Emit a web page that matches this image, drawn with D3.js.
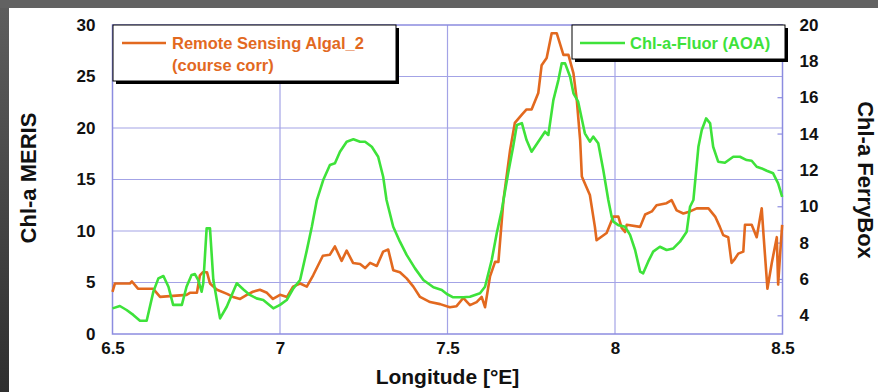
<!DOCTYPE html>
<html>
<head>
<meta charset="utf-8">
<script src="https://cdn.jsdelivr.net/npm/d3@7"></script>
<style>
  body { margin: 0; background: #fff; }
  svg { display: block; font-family: "Liberation Sans", Arial, sans-serif; }
  .tick text { font-weight: bold; font-size: 17px; fill: #111; }
</style>
</head>
<body>
<div id="chart-area"></div>
<script>
// longitude ticks
const xTicks = [6.5, 7, 7.5, 8, 8.5];
const leftTicks = [0, 5, 10, 15, 20, 25, 30];
const rightTicks = [4, 6, 8, 10, 12, 14, 16, 18, 20];

// Remote Sensing Algal_2 (left axis, Chl-a MERIS)
const meris = [
  [6.500, 4.1], [6.507, 4.9], [6.552, 4.9], [6.558, 5.1], [6.576, 4.4], [6.621, 4.4],
  [6.642, 3.6], [6.681, 3.7], [6.721, 3.8], [6.731, 4.0], [6.752, 4.0], [6.761, 5.7],
  [6.770, 6.0], [6.782, 6.0], [6.791, 4.9], [6.812, 4.3], [6.842, 3.9], [6.860, 3.6],
  [6.881, 3.4], [6.901, 3.8], [6.919, 4.1], [6.940, 4.3], [6.961, 4.0], [6.979, 3.4],
  [7.000, 3.8], [7.021, 3.6], [7.039, 4.6], [7.060, 4.9], [7.080, 4.6], [7.099, 5.7],
  [7.128, 7.6], [7.149, 7.7], [7.164, 8.5], [7.184, 7.1], [7.199, 8.1], [7.218, 6.9],
  [7.239, 6.8], [7.254, 6.4], [7.269, 6.9], [7.289, 6.6], [7.308, 8.0], [7.323, 8.2],
  [7.338, 6.2], [7.358, 6.0], [7.378, 5.4], [7.398, 4.6], [7.418, 3.6], [7.448, 3.1],
  [7.478, 2.9], [7.507, 2.6], [7.527, 2.7], [7.547, 3.5], [7.567, 2.8], [7.587, 3.1],
  [7.602, 3.6], [7.612, 2.6], [7.627, 5.6], [7.642, 7.0], [7.652, 7.0], [7.667, 13.0],
  [7.687, 17.9], [7.701, 20.5], [7.722, 21.3], [7.736, 21.8], [7.751, 21.8], [7.771, 23.4],
  [7.781, 26.1], [7.796, 26.8], [7.811, 29.2], [7.826, 29.2], [7.846, 27.1], [7.861, 27.1],
  [7.876, 25.3], [7.886, 22.7], [7.896, 18.8], [7.901, 15.3], [7.925, 13.5], [7.940, 10.4],
  [7.945, 9.1], [7.975, 9.8], [7.995, 11.4], [8.010, 11.4], [8.020, 10.3], [8.030, 9.9],
  [8.035, 10.6], [8.075, 10.4], [8.090, 11.6], [8.110, 11.9], [8.124, 12.5], [8.154, 12.7],
  [8.169, 13.0], [8.184, 12.0], [8.204, 11.7], [8.224, 11.9], [8.244, 12.2], [8.279, 12.2],
  [8.299, 11.4], [8.313, 10.4], [8.323, 9.6], [8.338, 9.4], [8.348, 6.9], [8.358, 7.3],
  [8.368, 7.8], [8.383, 8.0], [8.388, 10.6], [8.408, 10.6], [8.423, 9.4], [8.438, 12.2],
  [8.443, 9.8], [8.455, 4.4], [8.468, 6.9], [8.483, 9.4], [8.487, 4.8], [8.493, 7.8],
  [8.499, 10.6]
];

// Chl-a-Fluor (AOA) (right axis, Chl-a FerryBox)
const fluor = [
  [6.500, 4.41], [6.522, 4.54], [6.542, 4.32], [6.562, 4.05], [6.582, 3.73], [6.602, 3.73],
  [6.622, 5.33], [6.637, 6.06], [6.652, 6.19], [6.667, 5.60], [6.681, 4.60], [6.707, 4.60],
  [6.721, 5.60], [6.736, 6.25], [6.746, 6.30], [6.756, 5.97], [6.766, 5.33], [6.771, 5.79],
  [6.781, 8.81], [6.791, 8.81], [6.801, 5.97], [6.821, 3.86], [6.841, 4.50], [6.871, 5.79],
  [6.890, 5.46], [6.910, 5.15], [6.930, 4.96], [6.950, 4.87], [6.980, 4.41], [7.000, 4.60],
  [7.020, 4.87], [7.040, 5.51], [7.060, 5.97], [7.080, 7.60], [7.095, 8.90], [7.110, 10.37],
  [7.129, 11.47], [7.149, 12.30], [7.164, 12.39], [7.179, 13.03], [7.199, 13.58], [7.219, 13.71],
  [7.239, 13.58], [7.254, 13.58], [7.274, 13.30], [7.293, 12.75], [7.308, 11.65], [7.318, 10.37],
  [7.323, 10.00], [7.338, 8.90], [7.358, 8.08], [7.378, 7.35], [7.403, 6.61], [7.428, 5.97],
  [7.458, 5.57], [7.483, 5.42], [7.498, 5.20], [7.517, 5.02], [7.547, 5.02], [7.567, 5.05],
  [7.597, 5.24], [7.612, 5.60], [7.632, 7.07], [7.647, 8.54], [7.662, 9.82], [7.681, 11.84],
  [7.696, 13.30], [7.707, 14.50], [7.722, 14.60], [7.736, 13.67], [7.751, 13.03], [7.771, 13.58],
  [7.791, 14.13], [7.801, 13.95], [7.816, 15.87], [7.831, 16.97], [7.841, 17.89], [7.851, 17.89],
  [7.866, 17.15], [7.876, 16.24], [7.890, 15.78], [7.910, 14.04], [7.925, 13.58], [7.935, 13.86],
  [7.950, 13.49], [7.965, 12.02], [7.980, 10.37], [7.990, 9.45], [7.995, 9.18], [8.010, 8.99],
  [8.030, 8.90], [8.045, 8.45], [8.060, 7.62], [8.075, 6.43], [8.084, 6.34], [8.099, 6.98],
  [8.114, 7.53], [8.134, 7.80], [8.154, 7.62], [8.174, 7.71], [8.194, 8.08], [8.214, 8.63],
  [8.224, 10.00], [8.234, 10.37], [8.249, 13.30], [8.259, 14.22], [8.272, 14.86], [8.284, 14.59],
  [8.293, 13.30], [8.308, 12.48], [8.328, 12.42], [8.353, 12.75], [8.373, 12.75], [8.393, 12.57],
  [8.408, 12.53], [8.423, 12.20], [8.438, 12.11], [8.453, 11.98], [8.472, 11.84], [8.487, 11.29],
  [8.499, 10.55]
];

const W = 878, H = 392;
const orange = "#e2691f", green = "#3ee23a", grid = "#a3a3e6";

const svg = d3.select("#chart-area").append("svg")
  .attr("width", W).attr("height", H);

// dark slide frame
const grad = svg.append("defs").append("linearGradient")
  .attr("id", "side").attr("x1", 0).attr("y1", 0).attr("x2", 0).attr("y2", 1);
grad.append("stop").attr("offset", "0%").attr("stop-color", "#5e5e5e");
grad.append("stop").attr("offset", "100%").attr("stop-color", "#2f2f2f");
svg.append("rect").attr("width", W).attr("height", H).attr("fill", "url(#side)");
svg.append("rect").attr("width", W).attr("height", 8).attr("fill", "#626262");
svg.append("rect").attr("x", 9).attr("y", 8).attr("width", W - 9).attr("height", H - 8)
  .attr("fill", "#fff");

// scales
const x = d3.scaleLinear().domain([6.5, 8.5]).range([112.5, 782.5]);
const yL = d3.scaleLinear().domain([0, 30]).range([334, 25]);
const yR = d3.scaleLinear().domain([3, 20]).range([334, 25]);

// grid
const g = svg.append("g");
g.selectAll(".hgrid").data([5, 10, 15, 20, 25]).enter().append("line")
  .attr("x1", x(6.5)).attr("x2", x(8.5))
  .attr("y1", d => yL(d)).attr("y2", d => yL(d))
  .attr("stroke", grid).attr("stroke-width", 1.2);
g.selectAll(".vgrid").data([7, 7.5, 8]).enter().append("line")
  .attr("y1", yL(0)).attr("y2", yL(30))
  .attr("x1", d => x(d)).attr("x2", d => x(d))
  .attr("stroke", grid).attr("stroke-width", 1.2);
g.append("rect")
  .attr("x", x(6.5)).attr("y", yL(30))
  .attr("width", x(8.5) - x(6.5)).attr("height", yL(0) - yL(30))
  .attr("fill", "none").attr("stroke", "#8c8ce0").attr("stroke-width", 1.5);

// right axis small ticks
g.selectAll(".rtick").data(rightTicks).enter().append("line")
  .attr("x1", x(8.5) - 5).attr("x2", x(8.5))
  .attr("y1", d => yR(d)).attr("y2", d => yR(d))
  .attr("stroke", "#8c8ce0").attr("stroke-width", 1.2);

// axes
const xAxis = svg.append("g")
  .attr("transform", "translate(0," + yL(0) + ")")
  .call(d3.axisBottom(x).tickValues(xTicks).tickSize(0).tickPadding(8).tickFormat(d3.format("")));
const yAxisL = svg.append("g")
  .attr("transform", "translate(" + (x(6.5) - 17) + ",0)")
  .call(d3.axisLeft(yL).tickValues(leftTicks).tickSize(0).tickPadding(0));
const yAxisR = svg.append("g")
  .attr("transform", "translate(" + (x(8.5) + 17) + ",0)")
  .call(d3.axisRight(yR).tickValues(rightTicks).tickSize(0).tickPadding(0));
[xAxis, yAxisL, yAxisR].forEach(a => a.select(".domain").remove());
yAxisL.selectAll("text").attr("dy", "0.3em");
yAxisR.selectAll("text").attr("dy", "0.3em");

// lines
const lineL = d3.line().x(d => x(d[0])).y(d => yL(d[1]));
const lineR = d3.line().x(d => x(d[0])).y(d => yR(d[1]));
svg.append("path").datum(meris)
  .attr("d", lineL).attr("fill", "none")
  .attr("stroke", orange).attr("stroke-width", 2.6).attr("stroke-linejoin", "round");
svg.append("path").datum(fluor)
  .attr("d", lineR).attr("fill", "none")
  .attr("stroke", green).attr("stroke-width", 2.6).attr("stroke-linejoin", "round");

// legends
function legendBox(x0, y0, w, h) {
  svg.append("rect").attr("x", x0 + 3).attr("y", y0 + 3)
    .attr("width", w).attr("height", h).attr("fill", "#000");
  svg.append("rect").attr("x", x0).attr("y", y0)
    .attr("width", w).attr("height", h)
    .attr("fill", "#fff").attr("stroke", "#000").attr("stroke-width", 1);
}
legendBox(113, 25, 283, 56);
svg.append("line").attr("x1", 122).attr("x2", 166).attr("y1", 43).attr("y2", 43)
  .attr("stroke", orange).attr("stroke-width", 2.6);
svg.append("text").attr("x", 172).attr("y", 49)
  .attr("font-size", "16.5px").attr("font-weight", "bold").attr("fill", orange)
  .text("Remote Sensing Algal_2");
svg.append("text").attr("x", 172).attr("y", 71)
  .attr("font-size", "16.5px").attr("font-weight", "bold").attr("fill", orange)
  .text("(course corr)");

legendBox(572, 25, 213, 34);
svg.append("line").attr("x1", 580).attr("x2", 625).attr("y1", 43).attr("y2", 43)
  .attr("stroke", green).attr("stroke-width", 2.6);
svg.append("text").attr("x", 630).attr("y", 49)
  .attr("font-size", "16.5px").attr("font-weight", "bold").attr("fill", green)
  .text("Chl-a-Fluor (AOA)");

// axis titles
svg.append("text")
  .attr("transform", "translate(36,178) rotate(-90)")
  .attr("text-anchor", "middle").attr("font-size", "22px").attr("font-weight", "bold")
  .attr("fill", "#111").text("Chl-a MERIS");
svg.append("text")
  .attr("transform", "translate(858,180) rotate(90)")
  .attr("text-anchor", "middle").attr("font-size", "22px").attr("font-weight", "bold")
  .attr("fill", "#111").text("Chl-a FerryBox");
svg.append("text")
  .attr("x", x(7.5)).attr("y", 384)
  .attr("text-anchor", "middle").attr("font-size", "21px").attr("font-weight", "bold")
  .attr("fill", "#111").text("Longitude [°E]");
</script>
</body>
</html>
